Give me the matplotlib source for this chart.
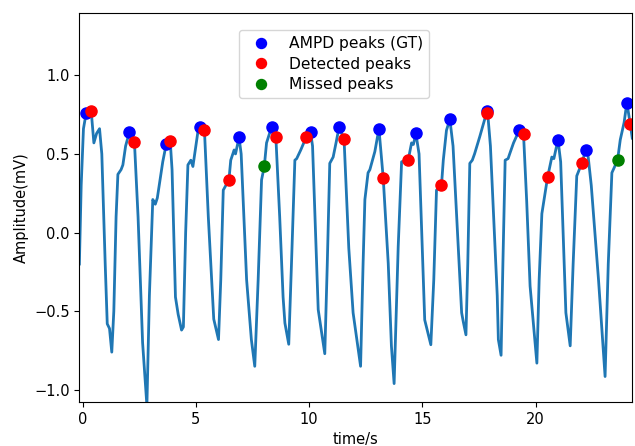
import matplotlib.pyplot as plt

# PPG trace, vertices (time in s, amplitude in mV)
sig_t = [-0.14, -0.06, 0.04, 0.16, 0.28, 0.38, 0.50, 0.62, 0.75, 0.85, 1.00, 1.09, 1.19, 1.29,
         1.38, 1.48, 1.56, 1.70, 1.78, 1.90, 2.07, 2.17, 2.29, 2.45, 2.65, 2.84,
         2.95, 3.10, 3.21, 3.30, 3.54, 3.69, 3.87, 3.95, 4.10, 4.22, 4.37, 4.45,
         4.55, 4.65, 4.78, 4.87, 5.09, 5.19, 5.38, 5.55, 5.79, 6.00,
         6.10, 6.21, 6.46, 6.54, 6.69, 6.75, 6.84, 6.90, 7.00, 7.24, 7.45, 7.60,
         7.75, 7.90, 8.02, 8.12, 8.34, 8.53, 8.70, 8.85, 8.93, 9.10,
         9.22, 9.37, 9.45, 9.63, 9.88, 10.06, 10.15, 10.40, 10.69,
         10.80, 10.91, 11.06, 11.20, 11.32, 11.54, 11.75, 11.94, 12.27,
         12.38, 12.46, 12.60, 12.68, 12.90, 13.08, 13.27, 13.49, 13.63, 13.75,
         13.93, 14.08, 14.37, 14.52, 14.60, 14.71, 14.85, 15.10, 15.37,
         15.50, 15.62, 15.84, 15.92, 16.06, 16.21, 16.35, 16.73, 16.80, 16.92,
         17.00, 17.09, 17.20, 17.30, 17.53, 17.83, 17.87, 18.00, 18.30, 18.35, 18.47,
         18.55, 18.65, 18.78, 18.85, 19.02, 19.27, 19.46, 19.60, 19.75, 20.05,
         20.15, 20.27, 20.52, 20.71, 20.80, 20.98, 21.10, 21.33, 21.52,
         21.65, 21.81, 22.03, 22.21, 22.30, 22.45, 22.77, 23.06,
         23.20, 23.36, 23.61, 23.73, 23.90, 24.02, 24.17, 24.26]
sig_v = [-0.20, 0.30, 0.66, 0.76, 0.74, 0.775, 0.57, 0.63, 0.66, 0.50, -0.20, -0.58, -0.61, -0.76,
         -0.50, 0.10, 0.37, 0.40, 0.43, 0.55, 0.64, 0.62, 0.575, 0.10, -0.70, -1.10,
         -0.40, 0.21, 0.18, 0.22, 0.45, 0.56, 0.58, 0.40, -0.41, -0.52, -0.62, -0.60,
         0.00, 0.43, 0.46, 0.42, 0.64, 0.67, 0.65, 0.10, -0.55, -0.68,
         -0.30, 0.27, 0.335, 0.46, 0.525, 0.50, 0.56, 0.61, 0.50, -0.30, -0.68, -0.85,
         -0.30, 0.335, 0.42, 0.57, 0.67, 0.61, 0.10, -0.41, -0.575, -0.71,
         -0.20, 0.46, 0.47, 0.525, 0.61, 0.64, 0.55, -0.49, -0.77,
         -0.20, 0.44, 0.48, 0.58, 0.67, 0.595, -0.10, -0.51, -0.85,
         -0.20, 0.21, 0.38, 0.40, 0.515, 0.66, 0.345, -0.195, -0.72, -0.96,
         -0.09, 0.45, 0.46, 0.57, 0.56, 0.63, 0.50, -0.555, -0.713,
         -0.30, 0.27, 0.30, 0.46, 0.65, 0.72, 0.55, -0.51, -0.565, -0.65,
         -0.20, 0.44, 0.46, 0.50, 0.61, 0.762, 0.775, 0.55, -0.40, -0.68, -0.78,
         -0.20, 0.46, 0.47, 0.50, 0.57, 0.65, 0.627, 0.20, -0.34, -0.83,
         -0.30, 0.12, 0.35, 0.48, 0.47, 0.59, 0.45, -0.51, -0.72,
         -0.20, 0.36, 0.44, 0.525, 0.50, 0.30, -0.30, -0.915,
         -0.20, 0.38, 0.46, 0.59, 0.70, 0.826, 0.69, 0.60]

# AMPD reference peaks
gt_t = [0.16, 2.07, 3.69, 5.19, 6.90, 8.34, 10.06, 11.32, 13.08, 14.71, 16.21, 17.87,
        19.27, 20.98, 22.21, 24.02]
gt_v = [0.76, 0.64, 0.56, 0.67, 0.61, 0.67, 0.64, 0.67, 0.66, 0.63, 0.72, 0.775,
        0.65, 0.59, 0.525, 0.826]

# peaks found by the detector
det_t = [0.38, 2.29, 3.87, 5.38, 6.46, 8.53, 9.88, 11.54, 13.27, 14.37, 15.84, 17.83,
         19.46, 20.52, 22.03, 24.17]
det_v = [0.775, 0.575, 0.58, 0.65, 0.335, 0.61, 0.61, 0.595, 0.345, 0.46, 0.30, 0.762,
         0.627, 0.35, 0.44, 0.69]

# reference peaks the detector missed
miss_t = [8.02, 23.61]
miss_v = [0.42, 0.46]

plt.rcParams['font.size'] = 10.5

fig = plt.figure(figsize=(6.35, 4.46), dpi=100)
ax = fig.add_axes([0.125, 0.099, 0.87, 0.872])

ax.plot(sig_t, sig_v, color='#1f77b4', linewidth=2.0)
ax.plot(gt_t, gt_v, 'o', color='blue', markersize=8, label='AMPD peaks (GT)')
ax.plot(det_t, det_v, 'o', color='red', markersize=8, label='Detected peaks')
ax.plot(miss_t, miss_v, 'o', color='green', markersize=8, label='Missed peaks')

ax.set_xlim(-0.14, 24.24)
ax.set_ylim(-1.076, 1.396)
ax.set_xticks([0, 5, 10, 15, 20])
ax.set_yticks([-1.0, -0.5, 0.0, 0.5, 1.0])
ax.set_xlabel('time/s')
ax.set_ylabel('Amplitude(mV)')

ax.legend(loc='upper left', bbox_to_anchor=(0.289, 0.956), borderaxespad=0,
          fontsize=11.2, labelspacing=0.35, markerscale=0.9)

fig.savefig('out.png', dpi=100)
